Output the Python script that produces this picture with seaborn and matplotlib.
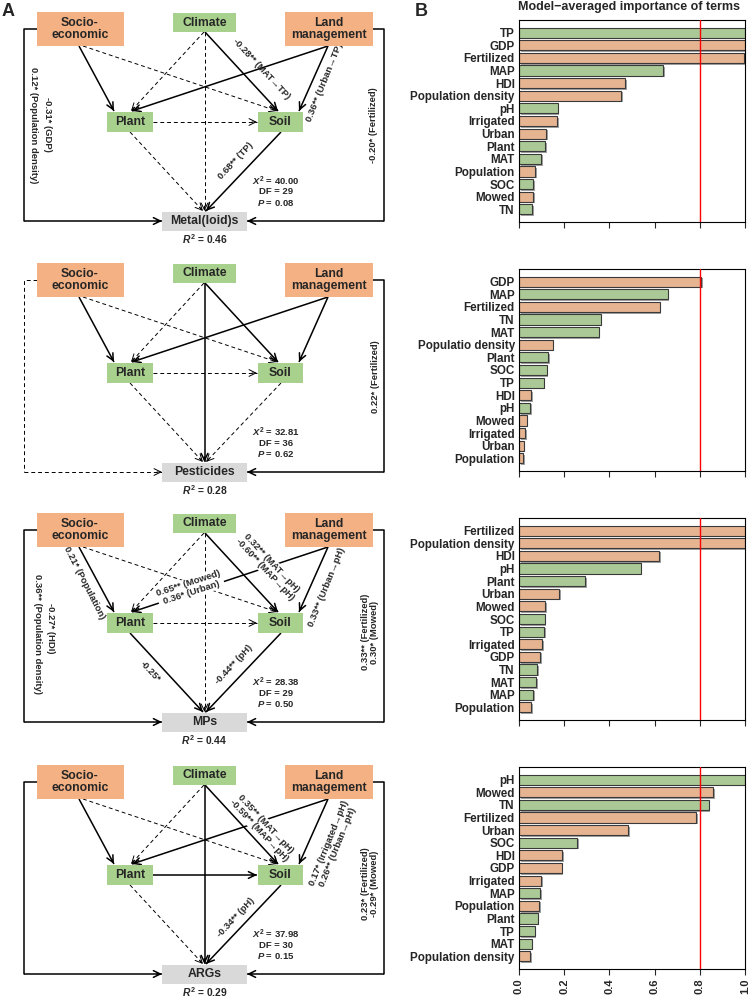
import numpy as np
import pandas as pd
import matplotlib
matplotlib.use("Agg")
import matplotlib.pyplot as plt
import matplotlib.patheffects as pe
from matplotlib.patches import Rectangle
import seaborn as sns

# ---- panel B data: model-averaged importance of terms ----
terms_metal = ["TP", "GDP", "Fertilized", "MAP", "HDI", "Population density", "pH",
               "Irrigated", "Urban", "Plant", "MAT", "Population", "SOC", "Mowed", "TN"]
imp_metal = [1.0, 1.0, 0.996, 0.638, 0.471, 0.453, 0.171, 0.168, 0.12, 0.115, 0.097,
             0.071, 0.064, 0.062, 0.058]

terms_pest = ["GDP", "MAP", "Fertilized", "TN", "MAT", "Populatio density", "Plant", "SOC",
              "TP", "HDI", "pH", "Mowed", "Irrigated", "Urban", "Population"]
imp_pest = [0.805, 0.658, 0.623, 0.361, 0.352, 0.149, 0.13, 0.123, 0.109, 0.055, 0.049,
            0.034, 0.028, 0.021, 0.019]

terms_mps = ["Fertilized", "Population density", "HDI", "pH", "Plant", "Urban", "Mowed", "SOC",
             "TP", "Irrigated", "GDP", "TN", "MAT", "MAP", "Population"]
imp_mps = [1.0, 1.0, 0.62, 0.538, 0.293, 0.179, 0.117, 0.114, 0.112, 0.102, 0.093, 0.08,
           0.075, 0.062, 0.053]

terms_args = ["pH", "Mowed", "TN", "Fertilized", "Urban", "SOC", "HDI", "GDP", "Irrigated",
              "MAP", "Population", "Plant", "TP", "MAT", "Population density"]
imp_args = [1.0, 0.858, 0.839, 0.784, 0.484, 0.257, 0.192, 0.189, 0.098, 0.093, 0.09, 0.083,
            0.07, 0.056, 0.049]

green_terms = ["TP", "MAP", "pH", "Plant", "MAT", "SOC", "TN"]

# ---- panel A data: SEM results ----
outcomes = ["Metal(loid)s", "Pesticides", "MPs", "ARGs"]
chi2 = ["40.00", "32.81", "28.38", "37.98"]
dfs = ["29", "36", "29", "30"]
pvals = ["0.08", "0.62", "0.50", "0.15"]
r2 = ["0.46", "0.28", "0.44", "0.29"]
# S = solid (significant), D = dashed; order = EDGE_KEYS + left bracket + right bracket
path_styles = ["SDDSDSSDDSSS", "SDDSSSSDDDDS", "SDDSDSSDSSSS", "SDDSSSSSDSSS"]
path_labels = [
    [("-0.28** (MAT→TP)", 261, 69, -47, False),
     ("0.36** (Urban→TP)", 325, 82, 68, False),
     ("0.68** (TP)", 236, 161, 47, False),
     ("-0.31* (GDP)", 47, 124, -90, False),
     ("0.12* (Population density)", 33, 125, -90, False),
     ("-0.20* (Fertilized)", 373, 125, 90, False)],
    [("0.22* (Fertilized)", 375, 126, 90, False)],
    [("0.21* (Population)", 84, 82, -63, False),
     ("0.65** (Mowed)\n0.36* (Urban)", 190, 87, 18, True),
     ("-0.27* (HDI)", 50, 127, -90, False),
     ("0.36** (Population density)", 37, 133, -90, False),
     ("-0.25*", 150, 171, -47, False),
     ("-0.44** (pH)", 234, 164, 47, False),
     ("0.32** (MAT→pH)\n-0.60** (MAP→pH)", 268, 65, -47, True),
     ("0.33** (Urban→pH)", 327, 86, 68, False),
     ("0.33** (Fertilized)\n0.30* (Mowed)", 370, 131, 90, False)],
    [("0.35** (MAT→pH)\n-0.59** (MAP→pH)", 262, 74, -47, True),
     ("0.17* (Irrigated→pH)\n0.26** (Urban→pH)", 333, 92, 68, False),
     ("0.23* (Fertilized)\n-0.29* (Mowed)", 370, 131, 90, False),
     ("-0.34** (pH)", 236, 165, 47, False)],
]

ORANGE = "#F4B183"
GREEN = "#A9D18E"
GRAY = "#D9D9D9"

# layout of the diagram (pixels, relative to the top of each SEM block)
PANEL_TOPS = [0, 251, 501, 753]
NODES = {
    "soc": (80, 29, 87, 34, "Socio-\neconomic", ORANGE),
    "cli": (204.5, 22.5, 63, 19, "Climate", GREEN),
    "land": (329, 29, 88, 34, "Land\nmanagement", ORANGE),
    "plant": (130, 122, 46, 20, "Plant", GREEN),
    "soil": (280, 122, 45, 20, "Soil", GREEN),
}
OUT_BOX = (204.5, 221, 85, 19)
EDGE_KEYS = ["soc_plant", "soc_soil", "cli_plant", "cli_soil", "cli_out",
             "land_plant", "land_soil", "plant_soil", "plant_out", "soil_out"]
EDGES = {
    "soc_plant": ((79, 46), (114, 111)),
    "soc_soil": ((83, 46), (277, 111)),
    "cli_plant": ((204, 32), (131, 111)),
    "cli_soil": ((205, 32), (278, 111)),
    "cli_out": ((204.5, 32), (204.5, 211)),
    "land_plant": ((328, 46), (132, 111)),
    "land_soil": ((328, 46), (299, 111)),
    "plant_soil": ((153, 122), (257, 122)),
    "plant_out": ((130, 132), (203, 211)),
    "soil_out": ((281, 132), (206, 211)),
}

sns.set_style("white")
plt.rcParams["font.family"] = ["Liberation Sans", "DejaVu Sans"]
plt.rcParams["mathtext.fontset"] = "custom"
plt.rcParams["mathtext.it"] = "Liberation Sans:italic:bold"
plt.rcParams["mathtext.rm"] = "Liberation Sans:bold"
plt.rcParams["mathtext.bf"] = "Liberation Sans:bold"


def arrow(ax, p0, p1, dashed):
    lw = 0.7 if dashed else 1.1
    ls = (0, (4, 3)) if dashed else "-"
    ax.plot([p0[0], p1[0]], [p0[1], p1[1]], color="k", lw=lw, ls=ls, zorder=2,
            solid_capstyle="butt")
    d = np.hypot(p1[0] - p0[0], p1[1] - p0[1])
    back = (p1[0] - (p1[0] - p0[0]) / d * 5, p1[1] - (p1[1] - p0[1]) / d * 5)
    ax.annotate("", xy=p1, xytext=back, zorder=2,
                arrowprops=dict(arrowstyle="->,head_length=0.45,head_width=0.22", lw=lw,
                                color="k", shrinkA=0, shrinkB=0, mutation_scale=11))


def draw_sem(ax, y0, i):
    for name, (cx, cy, w, h, txt, col) in NODES.items():
        ax.add_patch(Rectangle((cx - w / 2, y0 + cy - h / 2), w, h, fc=col, ec="none", zorder=4))
        ax.text(cx, y0 + cy, txt, ha="center", va="center", fontsize=8.8, fontweight="bold",
                linespacing=1.1, zorder=5)
    ox, oy, ow, oh = OUT_BOX
    ax.add_patch(Rectangle((ox - ow / 2, y0 + oy - oh / 2), ow, oh, fc=GRAY, ec="none", zorder=4))
    ax.text(ox, y0 + oy, outcomes[i], ha="center", va="center", fontsize=8.8,
            fontweight="bold", zorder=5)

    styles = path_styles[i]
    for key, st in zip(EDGE_KEYS, styles[:10]):
        (x1, y1), (x2, y2) = EDGES[key]
        arrow(ax, (x1, y0 + y1), (x2, y0 + y2), st == "D")

    # brackets from socio-economic / land management straight to the outcome
    soc = NODES["soc"]
    land = NODES["land"]
    for st, xbox, xside, xend in [(styles[10], soc[0] - soc[2] / 2, 24, ox - ow / 2),
                                  (styles[11], land[0] + land[2] / 2, 384, ox + ow / 2)]:
        dashed = st == "D"
        ax.plot([xbox, xside, xside], [y0 + 29, y0 + 29, y0 + oy], color="k",
                lw=0.7 if dashed else 1.1, ls=(0, (4, 3)) if dashed else "-", zorder=2)
        arrow(ax, (xside, y0 + oy), (xend, y0 + oy), dashed)

    for txt, x, y, rot, box in path_labels[i]:
        kw = dict(bbox=dict(fc="white", ec="none", pad=0.6)) if box else {}
        ax.text(x, y0 + y, txt, ha="center", va="center", rotation=rot, fontsize=6.8,
                fontweight="bold", linespacing=1.05, rotation_mode="anchor", zorder=3, **kw)

    ax.text(276, y0 + 181, r"$\mathit{X}^{2}$ = " + chi2[i], ha="center", va="center",
            fontsize=6.8, fontweight="bold")
    ax.text(276, y0 + 192, "DF = " + dfs[i], ha="center", va="center", fontsize=6.8,
            fontweight="bold")
    ax.text(276, y0 + 203, r"$\mathit{P}$ = " + pvals[i], ha="center", va="center",
            fontsize=6.8, fontweight="bold")
    ax.text(ox, y0 + 239, r"$\mathit{R}^{2}$ = " + r2[i], ha="center", va="center",
            fontsize=7.4, fontweight="bold")


def draw_bars(ax, terms, vals, last):
    df = pd.DataFrame({"term": terms, "importance": vals,
                       "group": ["env" if t in green_terms else "human" for t in terms]})
    sns.barplot(data=df, x="importance", y="term", hue="group",
                palette={"env": GREEN, "human": ORANGE}, dodge=False, width=0.8,
                edgecolor="#3a3a3a", linewidth=0.8, legend=False, orient="h", ax=ax)
    for p in ax.patches:
        p.set_path_effects([pe.SimplePatchShadow(offset=(1.2, -1.2), shadow_rgbFace="#8a8a8a",
                                                 alpha=0.8), pe.Normal()])
    ax.axvline(0.8, color="red", lw=1.0, zorder=5)
    ax.set_xlim(0, 1)
    ax.set_ylim(len(terms), -1)
    ax.set_xlabel("")
    ax.set_ylabel("")
    ax.set_xticks(np.arange(0, 1.01, 0.2))
    ax.tick_params(axis="x", direction="out", length=4.5, width=0.8, bottom=True,
                   labelbottom=last, labelsize=8, labelrotation=90, pad=2)
    ax.tick_params(axis="y", length=0, labelsize=8.4, pad=3)
    for lab in ax.get_xticklabels() + ax.get_yticklabels():
        lab.set_fontweight("bold")
    if last:
        ax.set_xticklabels(["0.0", "0.2", "0.4", "0.6", "0.8", "1.0"], fontweight="bold")
    for sp in ax.spines.values():
        sp.set_visible(True)
        sp.set_color("black")
        sp.set_linewidth(0.8)


fig = plt.figure(figsize=(7.5, 9.99), dpi=100)
axA = fig.add_axes([0, 0, 1, 1])
axA.set_xlim(0, 750)
axA.set_ylim(999, 0)
axA.axis("off")

for i, y0 in enumerate(PANEL_TOPS):
    draw_sem(axA, y0, i)

axA.text(2, 12, "A", fontsize=13, fontweight="bold", va="center", ha="left")
axA.text(415, 11, "B", fontsize=13, fontweight="bold", va="center", ha="left")
axA.text(629, 7, "Model\u2212averaged importance of terms", fontsize=9, fontweight="bold",
         ha="center", va="center")

bar_sets = [(terms_metal, imp_metal), (terms_pest, imp_pest),
            (terms_mps, imp_mps), (terms_args, imp_args)]
for k, (terms, vals) in enumerate(bar_sets):
    top = 20 + 249 * k
    ax = fig.add_axes([519 / 750, 1 - (top + 202) / 999, 226 / 750, 202 / 999])
    draw_bars(ax, terms, vals, k == 3)

fig.savefig("out.png", dpi=100)
